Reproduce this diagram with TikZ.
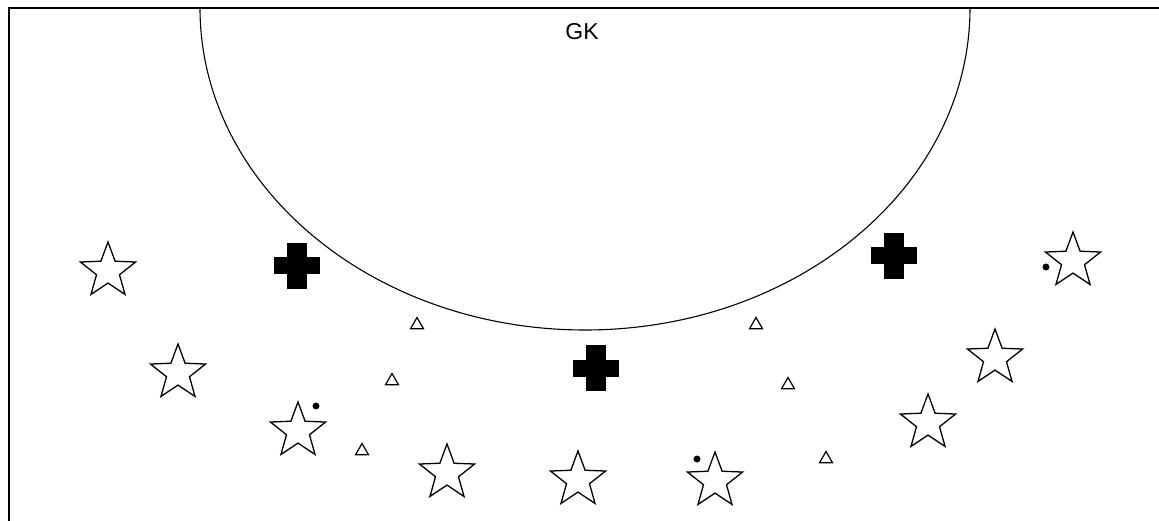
\documentclass[tikz,border=0pt]{standalone}
\usepackage{fontspec}
\setmainfont{Liberation Sans}
\usetikzlibrary{shapes.geometric}
\begin{document}
\begin{tikzpicture}[x=1pt,y=-1pt,
  player/.style={star,star points=5,star point ratio=2.4,draw,line width=1.3pt,minimum size=58pt,inner sep=0pt,fill=white},
  cone/.style={regular polygon,regular polygon sides=3,draw,line width=1.2pt,minimum size=15pt,inner sep=0pt},
  ball/.style={circle,fill=black,minimum size=7pt,inner sep=0pt},
  pics/plusmark/.style={code={
    \fill[black] (-10,-23) rectangle (10,23);
    \fill[black] (-23,-8.5) rectangle (23,8.5);
  }}
]
\useasboundingbox (0,0) rectangle (1159,521);
% border
\draw[line width=1.8pt] (9,521) -- (9,8) -- (1159,8);
% goal area arc
\draw[line width=1.1pt] (200,8) arc[start angle=180,end angle=360,x radius=385,y radius=-322];
\node[font=\fontsize{23}{23}\selectfont,inner sep=0pt] (gk) at (582,32) {GK};
% stars
\node[player] (s1) at (108,271) {};
\node[player] (s2) at (178,373) {};
\node[player] (s3) at (298,431) {};
\node[player] (s4) at (447,473) {};
\node[player] (s5) at (578,480) {};
\node[player] (s6) at (715,481) {};
\node[player] (s7) at (928,423) {};
\node[player] (s8) at (995,358) {};
\node[player] (s9) at (1073,261) {};
% crosses
\pic at (297,266) {plusmark};
\pic at (596,368) {plusmark};
\pic at (894,256) {plusmark};
% cones
\node[cone] (c1) at (417,325) {};
\node[cone] (c2) at (392,381) {};
\node[cone] (c3) at (362,451) {};
\node[cone] (c4) at (756,325) {};
\node[cone] (c5) at (788,385) {};
\node[cone] (c6) at (826,459) {};
% balls
\node[ball] (b1) at (316,406) {};
\node[ball] (b2) at (1046,267) {};
\node[ball] (b3) at (697,459) {};
\end{tikzpicture}
\end{document}
